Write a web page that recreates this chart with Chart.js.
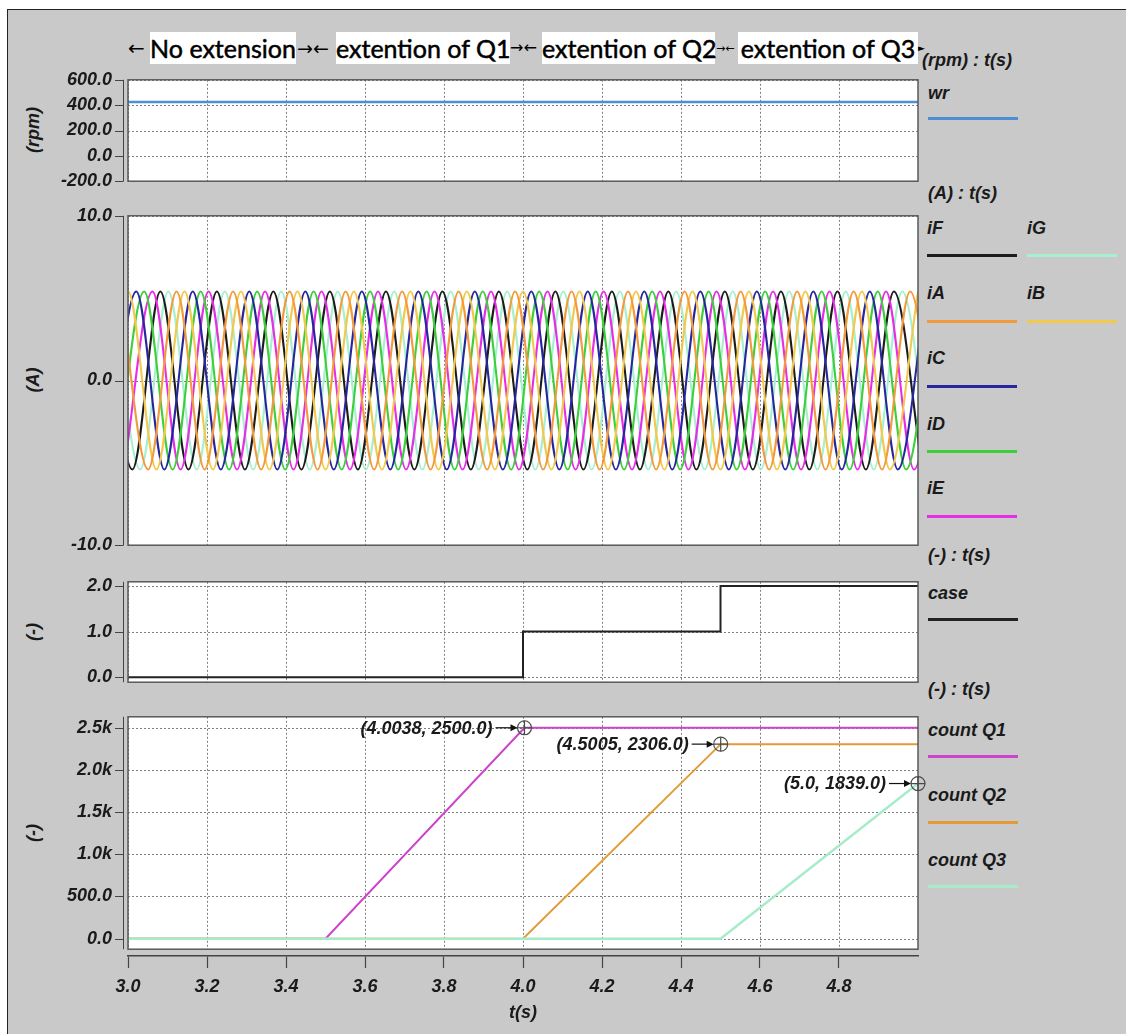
<!DOCTYPE html>
<html>
<head>
<meta charset="utf-8">
<script src="https://cdn.jsdelivr.net/npm/chart.js@4.4.1/dist/chart.umd.min.js"></script>
<style>
  html, body { margin: 0; padding: 0; background: #fff; }
  #page { position: relative; width: 1126px; height: 1034px; overflow: hidden; }
  #frame { position: absolute; left: 7px; top: 9px; width: 1130px; height: 1040px; background: #c9c9c9;
           border-left: 1.5px solid #222; border-top: 1.5px solid #222; }
  canvas { position: absolute; left: 0; }
  .lbl { position: absolute; font: italic bold 18px "Liberation Sans", Arial, sans-serif; color: #1a1a1a;
         white-space: nowrap; line-height: 1; transform: translateY(-50%); }
  .key { position: absolute; height: 2.5px; width: 90px; }
  .ytitle { position: absolute; font: italic bold 18px "Liberation Sans", Arial, sans-serif; color: #1a1a1a;
            white-space: nowrap; line-height: 1; transform: translate(-50%, -50%) rotate(-90deg); }
  .hbox { position: absolute; top: 32px; height: 32px; background: #fff; font: 25px Lato, sans-serif;
          line-height: 33px; text-align: center; white-space: nowrap; color: #000; -webkit-text-stroke: 0.5px #000; }
  .harr { position: absolute; top: 48px; font-family: "DejaVu Sans", sans-serif; line-height: 1;
          transform: translateY(-50%); color: #000; white-space: nowrap; }
</style>
</head>
<body>
<div id="page">
  <div id="frame"></div>

  <div class="harr" style="left:128px;font-size:20px">&larr;</div>
  <div class="hbox" style="left:150px;width:146px">No extension</div>
  <div class="harr" style="left:297px;font-size:19px">&rarr;&larr;</div>
  <div class="hbox" style="left:336px;width:174px">extention of Q1</div>
  <div class="harr" style="left:510px;font-size:16px">&rarr;&larr;</div>
  <div class="hbox" style="left:542px;width:173px">extention of Q2</div>
  <div class="harr" style="left:716px;font-size:11px">&rarr;&larr;</div>
  <div class="hbox" style="left:738px;width:180px">extention of Q3</div>
  <div class="harr" style="left:918px;font-size:9px">&#9658;</div>

  <div class="ytitle" style="left:33px;top:130px">(rpm)</div>
  <div class="ytitle" style="left:33px;top:380px">(A)</div>
  <div class="ytitle" style="left:33px;top:632px">(-)</div>
  <div class="ytitle" style="left:33px;top:833px">(-)</div>

  <div class="lbl" style="left:922px;top:60px">(rpm) : t(s)</div>
  <div class="lbl" style="left:928px;top:93px">wr</div>
  <div class="key" style="left:928px;top:117px;background:#4d8fd6"></div>

  <div class="lbl" style="left:928px;top:193px">(A) : t(s)</div>
  <div class="lbl" style="left:927px;top:228px">iF</div>
  <div class="key" style="left:927px;top:254px;background:#1c1c1c"></div>
  <div class="lbl" style="left:1027px;top:228px">iG</div>
  <div class="key" style="left:1027px;top:254px;background:#a6efcf"></div>
  <div class="lbl" style="left:927px;top:293px">iA</div>
  <div class="key" style="left:927px;top:320px;background:#f39a3c"></div>
  <div class="lbl" style="left:1027px;top:293px">iB</div>
  <div class="key" style="left:1027px;top:320px;background:#f2c94c"></div>
  <div class="lbl" style="left:927px;top:358px">iC</div>
  <div class="key" style="left:927px;top:385px;background:#26269e"></div>
  <div class="lbl" style="left:927px;top:424px">iD</div>
  <div class="key" style="left:927px;top:450px;background:#3ccf3c"></div>
  <div class="lbl" style="left:927px;top:488px">iE</div>
  <div class="key" style="left:927px;top:515px;background:#e62ee6"></div>

  <div class="lbl" style="left:928px;top:555px">(-) : t(s)</div>
  <div class="lbl" style="left:928px;top:593px">case</div>
  <div class="key" style="left:928px;top:618px;background:#222"></div>

  <div class="lbl" style="left:928px;top:689px">(-) : t(s)</div>
  <div class="lbl" style="left:928px;top:730px">count Q1</div>
  <div class="key" style="left:928px;top:755px;background:#cc44cc"></div>
  <div class="lbl" style="left:928px;top:795px">count Q2</div>
  <div class="key" style="left:928px;top:821px;background:#e59a3a"></div>
  <div class="lbl" style="left:928px;top:860px">count Q3</div>
  <div class="key" style="left:928px;top:885px;background:#a6ecc9"></div>

  <canvas id="c1" width="1126" height="129" style="top:66px"></canvas>
  <canvas id="c2" width="1126" height="357" style="top:202px"></canvas>
  <canvas id="c3" width="1126" height="128" style="top:568px"></canvas>
  <canvas id="c4" width="1126" height="260" style="top:703px"></canvas>
  <canvas id="cx" width="1126" height="94" style="top:940px"></canvas>
</div>

<script>
// time axis
const xTicks = [3.0, 3.2, 3.4, 3.6, 3.8, 4.0, 4.2, 4.4, 4.6, 4.8];

// rotor speed (rpm)
const wrT = [3.0, 5.0];
const wrV = [425, 425];

// phase currents (A): times of successive peaks / troughs
const iA_t = [2.980, 3.051, 3.123, 3.194, 3.266, 3.337, 3.409, 3.480, 3.551, 3.623, 3.694, 3.766, 3.837, 3.909, 3.980,
              4.051, 4.123, 4.194, 4.266, 4.337, 4.409, 4.480, 4.551, 4.623, 4.694, 4.766, 4.837, 4.909, 4.980, 5.051];
const iA_v = [5.4, -5.4, 5.4, -5.4, 5.4, -5.4, 5.4, -5.4, 5.4, -5.4, 5.4, -5.4, 5.4, -5.4, 5.4,
              -5.4, 5.4, -5.4, 5.4, -5.4, 5.4, -5.4, 5.4, -5.4, 5.4, -5.4, 5.4, -5.4, 5.4, -5.4];
const iB_t = [2.929, 3.000, 3.072, 3.143, 3.215, 3.286, 3.358, 3.429, 3.500, 3.572, 3.643, 3.715, 3.786, 3.858, 3.929,
              4.000, 4.072, 4.143, 4.215, 4.286, 4.358, 4.429, 4.500, 4.572, 4.643, 4.715, 4.786, 4.858, 4.929, 5.000, 5.072];
const iB_v = [-5.4, 5.4, -5.4, 5.4, -5.4, 5.4, -5.4, 5.4, -5.4, 5.4, -5.4, 5.4, -5.4, 5.4, -5.4,
              5.4, -5.4, 5.4, -5.4, 5.4, -5.4, 5.4, -5.4, 5.4, -5.4, 5.4, -5.4, 5.4, -5.4, 5.4, -5.4];
const iC_t = [2.949, 3.021, 3.092, 3.164, 3.235, 3.307, 3.378, 3.449, 3.521, 3.592, 3.664, 3.735, 3.807, 3.878, 3.949,
              4.021, 4.092, 4.164, 4.235, 4.307, 4.378, 4.449, 4.521, 4.592, 4.664, 4.735, 4.807, 4.878, 4.949, 5.021];
const iC_v = [-5.4, 5.4, -5.4, 5.4, -5.4, 5.4, -5.4, 5.4, -5.4, 5.4, -5.4, 5.4, -5.4, 5.4, -5.4,
              5.4, -5.4, 5.4, -5.4, 5.4, -5.4, 5.4, -5.4, 5.4, -5.4, 5.4, -5.4, 5.4, -5.4, 5.4];
const iD_t = [2.970, 3.041, 3.113, 3.184, 3.256, 3.327, 3.398, 3.470, 3.541, 3.613, 3.684, 3.756, 3.827, 3.898, 3.970,
              4.041, 4.113, 4.184, 4.256, 4.327, 4.398, 4.470, 4.541, 4.613, 4.684, 4.756, 4.827, 4.898, 4.970, 5.041];
const iD_v = [-5.4, 5.4, -5.4, 5.4, -5.4, 5.4, -5.4, 5.4, -5.4, 5.4, -5.4, 5.4, -5.4, 5.4, -5.4,
              5.4, -5.4, 5.4, -5.4, 5.4, -5.4, 5.4, -5.4, 5.4, -5.4, 5.4, -5.4, 5.4, -5.4, 5.4];
const iE_t = [2.990, 3.062, 3.133, 3.204, 3.276, 3.347, 3.419, 3.490, 3.562, 3.633, 3.704, 3.776, 3.847, 3.919, 3.990,
              4.062, 4.133, 4.204, 4.276, 4.347, 4.419, 4.490, 4.562, 4.633, 4.704, 4.776, 4.847, 4.919, 4.990, 5.062];
const iE_v = [-5.4, 5.4, -5.4, 5.4, -5.4, 5.4, -5.4, 5.4, -5.4, 5.4, -5.4, 5.4, -5.4, 5.4, -5.4,
              5.4, -5.4, 5.4, -5.4, 5.4, -5.4, 5.4, -5.4, 5.4, -5.4, 5.4, -5.4, 5.4, -5.4, 5.4];
const iF_t = [2.939, 3.011, 3.082, 3.153, 3.225, 3.296, 3.368, 3.439, 3.511, 3.582, 3.653, 3.725, 3.796, 3.868, 3.939,
              4.011, 4.082, 4.153, 4.225, 4.296, 4.368, 4.439, 4.511, 4.582, 4.653, 4.725, 4.796, 4.868, 4.939, 5.011];
const iF_v = [5.4, -5.4, 5.4, -5.4, 5.4, -5.4, 5.4, -5.4, 5.4, -5.4, 5.4, -5.4, 5.4, -5.4, 5.4,
              -5.4, 5.4, -5.4, 5.4, -5.4, 5.4, -5.4, 5.4, -5.4, 5.4, -5.4, 5.4, -5.4, 5.4, -5.4];
const iG_t = [2.960, 3.031, 3.102, 3.174, 3.245, 3.317, 3.388, 3.460, 3.531, 3.602, 3.674, 3.745, 3.817, 3.888, 3.960,
              4.031, 4.102, 4.174, 4.245, 4.317, 4.388, 4.460, 4.531, 4.602, 4.674, 4.745, 4.817, 4.888, 4.960, 5.031];
const iG_v = [5.4, -5.4, 5.4, -5.4, 5.4, -5.4, 5.4, -5.4, 5.4, -5.4, 5.4, -5.4, 5.4, -5.4, 5.4,
              -5.4, 5.4, -5.4, 5.4, -5.4, 5.4, -5.4, 5.4, -5.4, 5.4, -5.4, 5.4, -5.4, 5.4, -5.4];

// extension case
const caseT = [3.0, 4.0, 4.5, 5.0];
const caseV = [0, 1, 2, 2];

// counters
const q1T = [3.0, 3.5, 4.0038, 5.0];
const q1V = [0, 0, 2500, 2500];
const q2T = [3.0, 4.0, 4.5005, 5.0];
const q2V = [0, 0, 2306, 2306];
const q3T = [3.0, 4.5, 5.0];
const q3V = [0, 0, 1839];
const countTicks = [0, 500, 1000, 1500, 2000, 2500];

// marked points
const markX = [4.0038, 4.5005, 5.0];
const markY = [2500, 2306, 1839];
const markLabels = ['(4.0038, 2500.0)', '(4.5005, 2306.0)', '(5.0, 1839.0)'];

const tickFont = { family: '"Liberation Sans", Arial, sans-serif', size: 18, style: 'italic', weight: 'bold' };

function pts(t, v) {
  return t.map((x, i) => ({ x: x, y: v[i] }));
}

function line(t, v, color, w, extra) {
  return Object.assign({
    data: pts(t, v), borderColor: color, borderWidth: w, pointRadius: 0,
    fill: false, clip: 0, tension: 0
  }, extra || {});
}

function wave(t, v, color) {
  return line(t, v, color, 2.1, { cubicInterpolationMode: 'monotone', capBezierPoints: false });
}

function yAxis(min, max, ticks, fmt) {
  return {
    type: 'linear', min: min, max: max,
    afterBuildTicks: s => { s.ticks = ticks.map(v => ({ value: v })); },
    afterFit: s => { s.width = 128; },
    ticks: { font: tickFont, color: '#1a1a1a', padding: 16, autoSkip: false, callback: fmt },
    grid: { display: false, drawTicks: false },
    border: { display: false }
  };
}

const panelFrame = {
  id: 'panelFrame',
  beforeDraw(chart) {
    const a = chart.chartArea, ctx = chart.ctx;
    ctx.save();
    ctx.fillStyle = '#fff';
    ctx.fillRect(a.left, a.top, a.width, a.height);
    ctx.restore();
  },
  beforeDatasetsDraw(chart) {
    const a = chart.chartArea, ctx = chart.ctx, x = chart.scales.x, y = chart.scales.y;
    ctx.save();
    ctx.strokeStyle = '#808080';
    ctx.lineWidth = 1;
    ctx.setLineDash([2, 2]);
    xTicks.forEach(v => {
      const px = Math.round(x.getPixelForValue(v)) + 0.5;
      ctx.beginPath(); ctx.moveTo(px, a.top); ctx.lineTo(px, a.bottom); ctx.stroke();
    });
    y.ticks.forEach(t => {
      const py = Math.round(y.getPixelForValue(t.value)) + 0.5;
      ctx.beginPath(); ctx.moveTo(a.left, py); ctx.lineTo(a.right, py); ctx.stroke();
    });
    ctx.restore();
  },
  afterDraw(chart) {
    const a = chart.chartArea, ctx = chart.ctx, y = chart.scales.y;
    ctx.save();
    ctx.strokeStyle = '#5a5a5a';
    ctx.lineWidth = 1.5;
    ctx.strokeRect(a.left, a.top, a.width, a.height);
    // detached y axis line with its tick marks
    const ax = a.left - 4.5;
    ctx.strokeStyle = '#444';
    ctx.lineWidth = 1;
    ctx.beginPath(); ctx.moveTo(ax, a.top); ctx.lineTo(ax, a.bottom); ctx.stroke();
    y.ticks.forEach(t => {
      const py = Math.round(y.getPixelForValue(t.value)) + 0.5;
      ctx.beginPath(); ctx.moveTo(a.left - 13, py); ctx.lineTo(ax, py); ctx.stroke();
    });
    ctx.restore();
  }
};

const markers = {
  id: 'markers',
  afterDraw(chart) {
    const ctx = chart.ctx, x = chart.scales.x, y = chart.scales.y;
    ctx.save();
    markX.forEach((mx, i) => {
      const px = x.getPixelForValue(mx), py = y.getPixelForValue(markY[i]);
      ctx.strokeStyle = '#4a4a4a';
      ctx.lineWidth = 1.2;
      ctx.beginPath(); ctx.arc(px, py, 7, 0, Math.PI * 2); ctx.stroke();
      ctx.beginPath();
      ctx.moveTo(px - 7, py); ctx.lineTo(px + 7, py);
      ctx.moveTo(px, py - 7); ctx.lineTo(px, py + 7);
      ctx.stroke();
      ctx.strokeStyle = '#111';
      ctx.beginPath(); ctx.moveTo(px - 29, py); ctx.lineTo(px - 10, py); ctx.stroke();
      ctx.fillStyle = '#111';
      ctx.beginPath(); ctx.moveTo(px - 7, py); ctx.lineTo(px - 14, py - 3.5); ctx.lineTo(px - 14, py + 3.5); ctx.closePath(); ctx.fill();
      ctx.font = 'italic bold 18px "Liberation Sans", Arial, sans-serif';
      ctx.textAlign = 'right';
      ctx.textBaseline = 'middle';
      ctx.fillStyle = '#1a1a1a';
      ctx.fillText(markLabels[i], px - 32, py + 1);
    });
    ctx.restore();
  }
};

// move / resize a panel canvas so that its plot box sits at boxTop with height boxH
function place(chart, boxTop, boxH) {
  const a = chart.chartArea;
  const above = a.top, below = chart.height - a.bottom;
  chart.resize(1126, Math.round(boxH + above + below));
  chart.canvas.style.top = Math.round(boxTop - chart.chartArea.top) + 'px';
}

function panel(id, yScale, datasets, plugins, boxTop, boxH) {
  const ch = new Chart(document.getElementById(id), {
    type: 'line',
    data: { datasets: datasets },
    options: {
      responsive: false, maintainAspectRatio: false, animation: false,
      parsing: false, normalized: true,
      layout: { padding: { top: 14, bottom: 14, left: 0, right: 208 } },
      plugins: { legend: { display: false }, tooltip: { enabled: false } },
      scales: {
        x: { type: 'linear', display: false, min: 3.0, max: 5.0 },
        y: yScale
      }
    },
    plugins: [panelFrame].concat(plugins || [])
  });
  place(ch, boxTop, boxH);
  return ch;
}

const one = v => v.toFixed(1);

panel('c1', yAxis(-200, 600, [-200, 0, 200, 400, 600], one), [
  line(wrT, wrV, '#4d8fd6', 2.5)
], [], 80, 101);

panel('c2', yAxis(-10, 10, [-10, 0, 10], one), [
  wave(iA_t, iA_v, '#f39a3c'),
  wave(iB_t, iB_v, '#f2c94c'),
  wave(iC_t, iC_v, '#26269e'),
  wave(iD_t, iD_v, '#3ccf3c'),
  wave(iE_t, iE_v, '#e62ee6'),
  wave(iF_t, iF_v, '#1c1c1c'),
  wave(iG_t, iG_v, '#a6efcf')
], [], 216, 329);

panel('c3', yAxis(-0.11, 2.09, [0, 1, 2], one), [
  line(caseT, caseV, '#222', 2, { stepped: 'before' })
], [], 582, 100);

panel('c4', yAxis(-125, 2630, countTicks, v => v >= 1000 ? (v / 1000).toFixed(1) + 'k' : v.toFixed(1)), [
  line(q3T, q3V, '#a6ecc9', 2.5),
  line(q2T, q2V, '#e59a3a', 2),
  line(q1T, q1V, '#cc44cc', 2)
], [markers], 717, 232);

// shared time axis under the last panel
new Chart(document.getElementById('cx'), {
  type: 'scatter',
  data: { datasets: [] },
  options: {
    responsive: false, animation: false,
    layout: { padding: { top: 4, bottom: 0, left: 128, right: 208 } },
    plugins: { legend: { display: false }, tooltip: { enabled: false } },
    scales: {
      x: {
        type: 'linear', min: 3.0, max: 5.0,
        afterBuildTicks: s => { s.ticks = xTicks.map(v => ({ value: v })); },
        afterFit: s => { s.height = 78; },
        ticks: { font: tickFont, color: '#1a1a1a', padding: 8, autoSkip: false, maxRotation: 0, callback: one },
        grid: { drawOnChartArea: false, drawTicks: true, tickLength: 12, tickColor: '#444', tickWidth: 1.2 },
        border: { display: true, color: '#444', width: 1.5 },
        title: { display: true, text: 't(s)', font: tickFont, color: '#1a1a1a', padding: { top: 0, bottom: 10 } }
      },
      y: { display: false, min: 0, max: 1 }
    }
  }
});
</script>
</body>
</html>
